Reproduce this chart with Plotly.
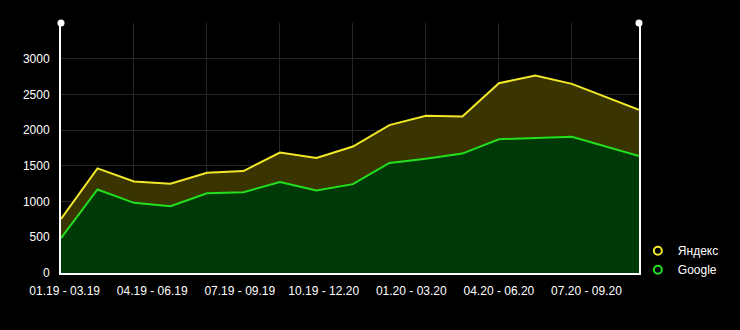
import plotly.graph_objects as go

# Data
x_index = list(range(15)) + [15.84]
yandex = [756, 1465, 1282, 1249, 1404, 1427, 1686, 1610, 1770, 2070, 2202, 2192, 2657, 2765, 2648, 2286]
google = [489, 1169, 982, 934, 1117, 1131, 1272, 1155, 1244, 1540, 1601, 1672, 1873, 1885, 1906, 1638]
tick_labels = ["01.19 - 03.19", "04.19 - 06.19", "07.19 - 09.19", "10.19 - 12.20",
               "01.20 - 03.20", "04.20 - 06.20", "07.20 - 09.20"]
tick_pos = [0.1, 2.5, 4.9, 7.2, 9.6, 12.0, 14.4]
y_ticks = [0, 500, 1000, 1500, 2000, 2500, 3000]

YELLOW = "#f2e82a"
GREEN = "#22e01e"
FONT = "Liberation Sans, Arial, sans-serif"

fig = go.Figure()
fig.add_trace(go.Scatter(x=x_index, y=yandex, mode="lines", line=dict(color=YELLOW, width=2),
                         fill="tozeroy", fillcolor="#3a3500", showlegend=False, hoverinfo="skip"))
fig.add_trace(go.Scatter(x=x_index, y=google, mode="lines", line=dict(color=GREEN, width=2),
                         fill="tozeroy", fillcolor="#003807", showlegend=False, hoverinfo="skip"))
# legend entries
fig.add_trace(go.Scatter(x=[None], y=[None], mode="markers", name="Яндекс",
                         marker=dict(symbol="circle-open", color=YELLOW, size=8, line=dict(width=2))))
fig.add_trace(go.Scatter(x=[None], y=[None], mode="markers", name="Google",
                         marker=dict(symbol="circle-open", color=GREEN, size=8, line=dict(width=2))))
# invisible trace for label axis
fig.add_trace(go.Scatter(x=[None], y=[None], xaxis="x2", showlegend=False, hoverinfo="skip"))

fig.update_layout(
    width=740, height=330,
    margin=dict(l=61, r=101, t=23, b=57),
    paper_bgcolor="#000000", plot_bgcolor="#000000",
    font=dict(family=FONT, size=12, color="#ffffff"),
    xaxis=dict(range=[0, 15.84], dtick=2, tick0=0, showgrid=True, gridcolor="#262626", gridwidth=1,
               showticklabels=False, zeroline=False, showline=True, linecolor="#ffffff", linewidth=2,
               ticks=""),
    xaxis2=dict(range=[0, 15.84], overlaying="x", side="bottom", tickvals=tick_pos, ticktext=tick_labels,
                showgrid=False, zeroline=False, showline=False, ticks="", ticklabelstandoff=9,
                tickfont=dict(family=FONT, size=12, color="#ffffff")),
    yaxis=dict(range=[0, 3500], tickvals=y_ticks, showgrid=True, gridcolor="#262626", gridwidth=1,
               zeroline=False, showline=True, mirror=True, linecolor="#ffffff", linewidth=2, ticks="",
               ticklabelstandoff=7,
               tickfont=dict(family=FONT, size=12, color="#ffffff")),
    legend=dict(x=0.998, y=-0.045, xanchor="left", yanchor="bottom", bgcolor="rgba(0,0,0,0)",
                font=dict(family=FONT, size=12, color="#ffffff"), itemwidth=30, tracegroupgap=0),
    shapes=[
        dict(type="circle", xref="paper", yref="paper", xsizemode="pixel", ysizemode="pixel",
             xanchor=0, yanchor=1, x0=-3.5, x1=3.5, y0=-3.5, y1=3.5,
             fillcolor="#ffffff", line=dict(width=0)),
        dict(type="circle", xref="paper", yref="paper", xsizemode="pixel", ysizemode="pixel",
             xanchor=1, yanchor=1, x0=-3.5, x1=3.5, y0=-3.5, y1=3.5,
             fillcolor="#ffffff", line=dict(width=0)),
    ],
)

fig.write_html("out.html")
